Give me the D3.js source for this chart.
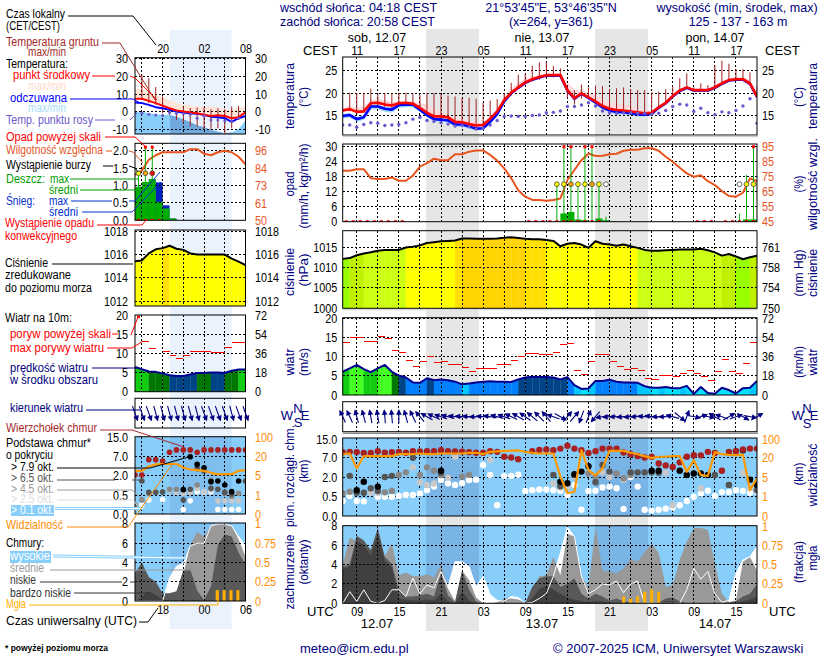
<!DOCTYPE html>
<html>
<head>
<meta charset="utf-8">
<script src="https://cdn.jsdelivr.net/npm/d3@7"></script>
<style>
  body { margin: 0; background: #fff; }
  text { font-family: "Liberation Sans", Arial, sans-serif; font-size: 12.5px; }
</style>
</head>
<body>
<div id="chart"></div>
<script>
// ---------- main forecast, hourly, t = hours after 12.07 07 UTC ----------
const tempMain = [16.2,16.5,15.9,16,17.8,17.9,17.5,17.3,17.8,17.9,
  17.7,16.8,15.7,14.9,14.9,14.7,13.7,13.6,13.2,12.9,
  13,14.4,16,18.5,20.1,21.3,22.4,23.1,23.6,24,
  24,24,20.7,18.9,20,19.1,18.2,17.2,16.6,16.3,
  16.2,16,15.8,15.6,15.7,16.9,17.9,19.4,20.6,21.3,
  20.7,20.7,20.7,21.3,22.2,22.9,23.1,23.1,22.2,19.3];
const tempMaxMain = [17,17.2,16.8,17,18.5,18.7,18.5,18,18.3,18.3,
  18.2,17.8,17.6,16.6,15.9,15.4,14.5,14.3,14,13.6,
  13.5,14.9,16.5,19.3,21,22.3,23.2,23.8,24,24.3,
  24.3,24.3,22.5,20.8,20.8,20,19.6,18.5,17.9,17.7,
  17.6,17.2,16.5,16.2,16.2,17.3,18.4,19.9,21,21.5,
  21,21,21,21.9,22.8,23.3,23.6,23.6,22.9,20.3];
const tempMinMain = [15.9,16.2,15.6,15.7,17.5,17.6,17.2,17,17.5,17.6,
  17.4,16.5,15.4,14.6,14.6,14.4,13.4,13.3,12.9,12.6,
  12.7,14.1,15.7,18.2,19.8,21,22.1,22.8,23.3,23.7,
  23.7,23.7,20.4,18.6,19.7,18.8,17.9,16.9,16.3,16,
  15.9,15.7,15.5,15.3,15.4,16.6,17.6,19.1,20.3,21,
  20.4,20.4,20.4,21,21.9,22.6,22.8,22.8,21.9,19];
const apparentMain = [15,15.2,14.3,14.7,17.1,17.1,16.6,16.4,17.4,17.5,
  17.5,16.4,15.2,14.3,14.2,14,13.1,13.1,12.7,12.2,
  12.3,13.7,15.4,18.2,20,21.2,22.3,23,23.5,23.9,
  23.9,23.9,20.6,18.8,19.9,19,18,16.9,16.2,15.9,
  15.8,15.6,15.4,15.3,15.5,16.8,17.8,19.3,20.5,21.2,
  20.6,20.6,20.6,21.2,22.1,22.8,23,23,22.1,19.2];
const apparentMaxMain = [15.5,15.7,14.8,15.2,17.6,17.6,17.1,16.9,17.8,17.9,
  17.9,16.8,15.6,14.7,14.5,14.3,13.4,13.4,13,12.6,
  12.6,14,15.7,18.4,20.1,21.3,22.4,23.1,23.6,24,
  24,24,20.7,18.9,20,19.1,18.2,17.2,16.5,16.2,
  16.1,15.9,15.7,15.6,15.7,16.9,17.9,19.4,20.6,21.3,
  20.7,20.7,20.7,21.3,22.2,22.9,23.1,23.1,22.2,19.3];
const apparentMinMain = [14.4,14.6,13.7,14.1,16.4,16.4,15.9,15.7,16.8,16.9,
  16.9,15.8,14.7,13.8,13.7,13.5,12.6,12.6,12.2,11.8,
  11.9,13.3,15,17.8,19.7,20.9,22,22.7,23.2,23.6,
  23.6,23.6,20.3,18.5,19.6,18.6,17.6,16.5,15.8,15.4,
  15.3,15.1,14.9,14.9,15.1,16.5,17.5,19,20.2,20.9,
  20.3,20.3,20.3,20.9,21.8,22.5,22.7,22.7,21.8,18.9];
const groundMaxMain = [16.5,20.1,20.1,20.1,21,20,20.1,20,20.1,20.1,
  20,19.6,20,20,19.7,19.5,19.3,18.9,19,18.8,
  17.9,18.4,18.7,20,22.3,24.1,24.4,26.1,26.8,27,
  26,25.5,21.5,20.7,21.9,21.3,21.7,21.6,20.9,21.1,
  21.3,20.9,20.7,20.7,20.2,20.4,20.9,21.5,23.3,24.4,
  21.3,22.2,21.8,26.2,27.2,26.5,25.3,25.3,24.6,21.5];
const groundMinMain = [16,16,15.6,15.8,17,17.3,17,16.8,17.2,17.5,
  17.3,16.3,15,14.5,14.2,14,13.3,13,12.8,12.5,
  12.6,13.8,15.5,17.8,19.5,21,22,22.6,23,23.5,
  23.5,23.5,19,17.5,18.8,18.7,17.8,16.9,16.3,16,
  15.9,15.7,15.5,15,15.4,16.5,17.5,19,20.2,21,
  20.3,20.3,20.4,21,21.9,22.6,22.8,22.8,21.8,19];
const dewMain = [13,13,12.5,13.1,13.5,13.4,12.9,13,13.1,13.5,
  14.3,14.7,14,13.8,13.5,13.2,12.8,12.9,12.6,12.1,
  12.3,13,14,14.9,15,14.9,14.9,15.1,15.2,15.7,
  15.8,16.1,17.1,17.1,17.4,17.9,17.2,16.1,15.7,15.6,
  15.7,15.7,15.6,15.6,15.4,15.6,16.2,17.1,17.6,17.4,
  16,16.7,15.7,15.3,15.9,15.7,16.2,17.2,18.8,13.4];
const humidityMain = [79,79,80,80,74,73.5,73.5,74.5,72.3,72.3,
  75.7,81.7,84,87,86,86,90,90,91.7,92.5,
  92.5,89.5,85.7,80.5,74,66,61.7,59.5,59.5,59,
  59.5,60.5,72.8,79.5,86,90.5,88.8,89,90,90.3,
  92.3,93,93,94,94,92.3,88.3,85,81,77.2,
  75,76,72,69.4,65.4,62.1,61.7,64.3,73.9,72];
const pressureMain = [1012.1,1012.3,1013,1013.4,1013.7,1014.1,1014.3,1014.3,1014.3,1014.9,
  1015.1,1015.4,1016,1016.2,1016.4,1016.5,1016.6,1017.1,1017.1,1017,
  1017,1017,1017.1,1017.3,1017.4,1017.2,1017,1016.9,1016.9,1016.7,
  1016.5,1015.2,1015.8,1016,1015.6,1014.8,1016.4,1015.8,1015.6,1015.3,
  1015.6,1015.2,1014.8,1014.3,1014.1,1014.1,1014.2,1014.3,1014.4,1014.4,
  1014.4,1014.6,1014.2,1013.7,1012.9,1013.3,1012.7,1012,1012.5,1012.9];
const windMain = [6.1,7,7.9,6.8,6,7,7.9,6.1,5.1,4.6,
  3.3,3.2,4.4,3.9,4.1,3.9,3.5,2.8,3,3.3,
  3.5,3.6,3.5,3.5,3.4,4.1,4.6,4.8,4.7,4.7,
  4.6,4.1,4.7,2.6,1.6,1.7,3.7,3.7,4,3.5,
  3.3,3.3,3.2,2.3,1.9,1.9,2.1,1.8,1.8,2.4,
  0.3,2.1,0.5,0.3,1.9,1.3,0.4,1.8,1.9,3.7];
// gust per hour interval, t .. t+1
const gustMain = [13.9,15.1,15.1,14,14,15.3,14.9,11.7,11.2,9.1,
  7.5,8.9,10,8.5,8.7,7.9,7.9,7.3,6.2,7,
  7,7,7.9,8.1,9.1,10.2,11,11,10.7,10.7,
  11.2,13.2,13.6,6.5,5.4,8.7,10.7,10.7,8.9,7.5,
  6.7,7,6.5,4.4,4.1,5.2,5.2,4.8,5.7,6.4,
  5.7,4.9,3.7,6.1,9.4,6.1,5.7,8.4,13.9];
const windDirMain = [335,335,345,345,350,350,355,355,0,345,
  335,320,300,295,290,285,280,275,275,270,
  275,280,285,290,295,300,305,310,315,320,
  290,120,40,40,200,20,220,260,265,270,
  265,265,270,275,280,270,270,285,130,20,
  100,70,100,300,290,60,70,120,100,60];
// [t, mm/h]
const rainAvgMain = [[31,3.3],[32,3.9],[33,0.9],[34,0.6],[36,1.3],[37,0.6],[38,0.2],[57,0.9],[58,0.9]];
const rainMaxMain = [[30.5,15],[31.5,34],[32.5,34],[33.5,15],[34.5,34],[35.5,34],[36.5,15],[37.5,2],[56.5,3.3],[57.5,18.7],[58.5,34]];
// [t, level] 0 weak .. 3 strong
const stormMain = [[30.5,1],[31.5,1],[32.5,2],[33.5,1],[34.5,1],[35.5,2],[36.5,1],[37.5,0],[56.5,0],[57.5,1],[58.5,1]];
const convectiveMain = [0.5,1.5,2.5,3.5,4.5,5.5,6.5,7.5,8.5,26.5,27.5,28.5,29.5,30.5,31.5,32.5,33.5,34.5,35.5,36.5,50.5,51.5,52.5,54.5,55.5,56.5,57.5,58.5];
const cloudTopMain = [9.3,9.5,9.4,9,9,9.8,9.1,9.4,9.5,9.1,
  9.8,9.7,9.8,9.8,10.2,9.8,9.7,9.6,9.4,9.1,
  9.1,9.8,9.5,7.4,7.1,6.6,null,9.8,10.3,10.5,
  10.2,10.9,12.1,10.9,10.2,9,9.8,10.9,10.9,10.9,
  9.2,8.5,7.7,7.1,7.4,5.5,5,4.6,5.8,7.4,
  8.1,8,9.5,9,3.6,9.5,9.8,10.5,10.9,10.9];
const visibilityMain = [35,38,11.7,27,27,27,27,27,35,35,
  35,38,35,35,38,38,38,38,41,41,
  35,45,47,49,50,51,45,41,38,38,
  38,5.3,1.7,2,52,10.4,6.3,11.7,49,49,
  49,41,35,27,19.7,24,24,27,27,9,
  18,6.6,5.8,44,35,32,31,32,2.4,4.7];
// cloud base [t, km] per cover class
const baseOver79Main = [[2,1],[3,1.64],[5,1.27],[14,3.6],[31,1.64],[32,1.52],[33,2.7],[34,3.4],[35,4.8],[44,3.6],[45,3.6],[48,3.6],[49,2.5],[50,2.9],[51,2.9],[52,2.5],[57,10.2],[58,1.8],[59,1.4]];
const baseOver65Main = [[1,2.3],[2,0.8],[3,0.8],[4,1.14],[5,0.93],[6,2],[7,2.3],[10,7],[14,3.1],[30,2.5],[31,1.3],[33,2.5],[36,1.6],[37,5.1],[38,3.4],[41,3.2],[42,3.2],[43,3.2],[44,3.2],[45,3.1],[53,2.5],[55,1.4],[56,9.9],[59,1]];
const baseOver45Main = [[0,0.75],[1,0.88],[6,0.83],[7,0.93],[8,2.5],[9,3.2],[11,2.5],[12,4.5],[13,3.6],[14,2.5],[17,2.1],[18,2.6],[35,2.9],[36,2],[39,2.9],[40,1.9],[41,2.5],[55,1.4]];
const baseOver25Main = [[4,0.8],[5,0.8],[10,4.5],[11,1.6],[12,1.4],[13,1.5],[15,1.95],[16,7.4],[21,6.4],[30,1.5],[31,1.2],[32,1.2],[33,2.1],[37,3.2],[38,2],[40,1.8],[46,3.1],[47,0.28],[51,1.14],[57,3.1],[58,1.14]];
const baseOver01Main = [[0,0.39],[1,0.55],[2,0.39],[3,0.38],[5,0.5],[6,0.5],[7,0.5],[8,0.55],[9,0.63],[10,0.63],[11,0.75],[12,1],[13,1.27],[14,1.77],[15,1.52],[16,1.39],[17,1.52],[18,1.77],[19,1.8],[20,5.1],[21,2.5],[22,0.28],[23,2.3],[24,2.3],[25,2.6],[26,0.93],[27,1],[28,1.05],[29,1.05],
  [30,1],[31,0.95],[32,0.63],[33,1.39],[34,0.16],[35,0.93],[36,0.95],[37,1.2],[38,1.27],[39,1.14],[40,0.18],[41,2],[42,1.27],[43,0.16],[44,0.14],[45,0.16],[46,0.19],[47,0.22],[48,0.28],[49,0.39],[50,0.5],[51,0.75],[52,0.95],[53,0.55],[54,0.85],[55,0.85],[56,1],[57,0.93],[58,0.8],[59,0.88]];
const coverHighMain = [0,1.2,0.2,1.4,0.2,0,0.3,1.4,1.4,0.7,
  2.6,1,1.9,1.6,3.3,1.7,4.3,4.3,3.8,1.7,
  2.8,0.9,0.3,0.2,0.7,0.6,0,0.1,0.5,1,
  2.8,5.2,7.9,6.9,2.8,1,1.4,2,1.9,2.3,
  1.1,2,2.3,0,0,0,0,0,0,1.4,
  3.6,2.5,3.3,1,0.1,0.3,3.1,4.5,4.8,5.9];
const coverMidMain = [4,6.8,6.4,5.9,5.6,7.5,4.9,6.2,2.9,3.2,
  2.8,2.8,3,2.7,4,1.5,0.2,3.4,2.4,0.6,
  0,0,0.1,0.5,0.5,0.4,0.1,1,2.8,2.9,
  4.8,2.9,7.2,6.9,2.8,1.7,7.9,3.4,3.3,3.1,
  3.6,4.6,4.3,5.3,6.2,5.2,1.7,1.9,4.5,6.4,
  7.8,7.8,7.6,4.1,1,0.1,0.3,4.3,4.8,3.4];
const coverLowMain = [3.8,4,7,6.5,5.5,7.8,4.8,4.1,1.4,0.7,
  0.7,0.8,1,0.7,3.1,0.8,0.1,3.4,1.4,0.2,
  0,0,0,0,0,0,0,1.7,2.6,2.8,
  2.8,1.7,2,2.6,1,0.5,1,0.7,0.3,0.5,
  0.2,0.1,0,0,0,0.1,0.5,0.6,0.2,0,
  0,0,0,0,0,0.1,0.2,0.7,1,2];
const coverVeryLowMain = [3.5,3.8,6.5,6,5,7.2,4.4,3.7,0.5,0.4,
  0.3,0.3,0.4,0.3,1,0.2,0,1.2,0.3,0,
  0,0,0,0,0,0,0,0.5,1.5,1.8,
  1.4,1,0.6,0.4,0.2,0.1,0.2,0.2,0,0,
  0,0,0,0,0,0,0.2,0.2,0,0,
  0,0,0,0,0,0,0,0.2,0.4,0.7];
const fogMain = [[40,0.09],[41,0.06],[42,0.09],[43,0.15],[44,0.18],[45,0.15]];

// ---------- left, area forecast, i = hours after 14 UTC ----------
const tempLeft = [7.3,7.3,6.1,4.8,3.4,1.9,0.6,0,-0.6,-1,-1.9,-2.5,-2.1,-2.5,-3.8,-3.2,-0.4];
const tempMaxLeft = [13,12.8,11,9.5,8,6.5,5,4,3.5,3,2.5,3,2.5,1.5,1,2,3];
const tempMinLeft = [7,7,5.8,4.5,3,1.5,0.3,-0.4,-1,-1.4,-2.3,-2.9,-2.7,-2.9,-4.2,-3.6,-2.2];
const apparentLeft = [5.2,4.8,3.8,2.5,1.9,1,0,-0.6,-1,-1.3,-1.9,-2.9,-3.3,-3.8,-5.9,-3.8,-2.5];
const apparentMaxLeft = [0,0,-1,-1.5,-2,-2,-3,-4.5,-6,-8,-9,-10.5,-11.5,-12.5,-12,-10,-5];
const apparentMinLeft = [-15,-15,-15,-15,-15,-15,-15,-15,-15,-15,-15,-15,-15,-15,-15,-15,-15];
const groundMaxLeft = [null,21,19,14,8.7,2,1,2.5,2,2.3,2.5,1.3,1.9,1.3,2.9,3.3,null];
const groundMinLeft = [null,6.7,4.8,3.8,-1,-2,-4.8,-6.7,-8.6,-8.6,-10,-10.4,-9.5,-12.5,-9.5,-4.8,null];
const dewLeft = [-1,-1,-1.5,-2,-2.3,-0.6,-1,-1.3,-1.5,-3.8,-2.5,-4.8,-4.8,-5.3,-5.7,-3.8,null];
const humidityLeft = [80,83,90,93,95,95,95,95,97,97,94,93,95,96,95,92,87];
const rainAvgLeft = [0.96,1.1,1.18,0.53,0.34,0.05];
const snowAvgLeft = [0,0,0,0.56,0.09,0];
const rainMaxLeft = [[0.5,1.35],[1.5,3],[2.5,3]];
const stormLeft = [[0.5,1],[1.5,2],[2.5,3]];
const convectiveLeft = [0.5,1.5,2.5,3.5];
const pressureLeft = [1015.43,1015.5,1016.1,1016.45,1016.55,1016.75,1016.5,1016.4,1016.1,1016,1016,1016,1016,1016,1015.65,1015.4,1015.1];
const windLeft = [6.5,5.9,5.3,5.2,4.8,4.3,4.1,4.1,4.5,4.9,4.9,5,5,4.9,5.5,5.8,5.8];
const windBandLeft = [6,6,5.5,5.5,5.5,4.5,4.5,4.5,4.5,5.5,5.5,4.5,4.5,5.5,5.5,6];
const gustLeft = [25,13.2,11.4,null,10.5,9.4,8.6,9.4,10.5,10.6,10.6,10.4,10.4,11.5,12.8,12.8];
const windDirLeft = [160,160,160,165,165,165,165,165,165,165,160,160,160,160,165,160,160];
const cloudTopLeft = [2,2,6.2,6.2,5.8,8.8,9.76,9.76,9.76,8.8,9.76,9.76,9.76,9.76,9.76,9.76,9.76];
const visibilityLeft = [8.4,8.4,12,13.7,14,14,14,11.1,9.5,9,8.4,6.8,5.5,5.7,5.7,8.4,9];
const baseOver79Left = [[7,0.9],[8,7],[9,4.9],[10,4],[11,1.5],[12,1.55],[13,1.25],[14,0.75],[15,1.55]];
const baseOver65Left = [[1,1.55],[2,0.7],[3,0.7],[4,0.72],[7,0.37],[8,0.93],[9,3.75],[10,3.1],[11,1],[12,0.93],[13,0.7],[14,0.58],[16,1.55]];
const baseOver45Left = [[0,0.24],[1,0.37],[2,0.63],[3,0.7],[5,0.93],[6,0.93],[9,1.25],[11,1.6],[13,0.63],[14,0.47],[15,0.63]];
const baseOver25Left = [[0,0.24],[5,0.85],[6,0.7],[7,0.63],[8,0.7],[9,1],[10,0.75],[11,0.88],[12,0.35],[13,0.35],[14,0.35],[15,0.35]];
const baseOver01Left = [[1,0.24],[2,0.37],[4,0.38],[7,0.12],[8,0.35],[9,0.75],[10,0.7],[11,0.75],[12,0.12],[13,0.12],[14,0.12],[15,0.12]];
const coverHighLeft = [0,0,0,0,0,2.4,3.6,3.9,5.7,6,6,7.8,8,8,7.8,6.7,5.7];
const coverMidLeft = [2.6,3,2,1.6,0.6,0.6,0.9,2.8,5.8,7.2,6.7,7.8,8,8,7.8,6.4,4.6];
const coverLowLeft = [2.9,4,2.5,2,0.8,0.8,1,3.2,3.3,1.1,0.1,1.5,5.8,6.9,6.7,5,3.8];
const coverVeryLowLeft = [0,0.4,1,0.6,0.1,0,0,0,0,0,0,0,0,0,0,0,0];
const fogLeft = [[11.9,0.14],[12.9,0.14],[13.9,0.14],[14.9,0.14]];

// ---------- tick labels ----------
const timeTicksMain = [2,8,14,20,26,32,38,44,50,56];
const utcLabels = ["09","15","21","03","09","15","21","03","09","15"];
const cestLabels = ["11","17","23","05","11","17","23","05","11","17"];
const timeTicksLeft = [4,10,16];

const width = 820, height = 660;
const svg = d3.select("#chart").append("svg").attr("width", width).attr("height", height);

const xMain = d3.scaleLinear().domain([0, 59]).range([342.7, 757]);
const xLeft = d3.scaleLinear().domain([0, 16]).range([135, 245.5]);

const navy = "#000080", orange = "#ff8c00", humid = "#e8541e", brown = "#a52a2a";
const skyBlue = "#87cefa";
const dotColors = ["#fff", "#c8c8c8", "#888", "#555", "#000"];
const coverColors = {high: "#fff", mid: "#999", low: "#595959", veryLow: "#404040"};
const stormColors = ["#fff", "#ffff00", "#ffa500", "#ff0000"];

const pressureColor = d3.scaleThreshold()
  .domain([1012.4, 1013.3, 1014.6, 1016.63, 1017])
  .range(["#99ff00", "#bff000", "#ccff11", "#ffff00", "#ffe000", "#ffd400"]);
const windColor = d3.scaleThreshold()
  .domain([2, 3, 4.1, 5, 5.8, 6.8])
  .range(["#00e0ff", "#00c8ff", "#0080ff", "#004488", "#007700", "#11cc11", "#44ff22"]);

// page level night bands
svg.append("rect").attr("x", 426).attr("y", 29).attr("width", 53).attr("height", 602).attr("fill", "#e6e6e6");
svg.append("rect").attr("x", 595).attr("y", 29).attr("width", 53).attr("height", 602).attr("fill", "#e6e6e6");
svg.append("rect").attr("x", 170).attr("y", 30).attr("width", 61.7).attr("height", 599).attr("fill", "#eaf2fd");

let clipId = 0;

// digits are narrower in the reference than in the installed font
function tickWidth(str) {
  return str.replace(/[.\-]/g, "").length * 6 + (str.match(/\./g) || []).length * 3 + (str.match(/-/g) || []).length * 3.5;
}

function styleTicks(g, color) {
  g.select(".domain").remove();
  g.selectAll("text").attr("fill", color).style("font-size", "12.5px")
    .attr("textLength", function() { return tickWidth(this.textContent); })
    .attr("lengthAdjust", "spacingAndGlyphs");
}

// one box: background, shaded bands, layers for fills / grid / lines, axes
function addPanel(cfg) {
  const rangeY = cfg.y.range();
  const panel = {x: cfg.x, y: cfg.y, top: cfg.top || d3.min(rangeY), bottom: d3.max(rangeY), left: cfg.x.range()[0], right: cfg.x.range()[1]};
  const h = panel.bottom - panel.top;
  const id = "clip" + (clipId++);
  svg.append("clipPath").attr("id", id).append("rect")
    .attr("x", panel.left).attr("y", panel.top).attr("width", panel.right - panel.left).attr("height", h);

  const root = svg.append("g");
  const clipped = root.append("g").attr("clip-path", "url(#" + id + ")");
  clipped.append("rect").attr("x", panel.left).attr("y", panel.top)
    .attr("width", panel.right - panel.left).attr("height", h)
    .attr("fill", cfg.sky ? skyBlue : "#fff");
  cfg.bands.forEach(b => {
    clipped.append("rect").attr("x", b[0]).attr("y", panel.top).attr("width", b[1]).attr("height", h)
      .attr("fill", cfg.sky ? cfg.skyBand : cfg.band);
  });
  panel.fills = clipped.append("g");
  const grid = clipped.append("g").attr("stroke", "#000").attr("stroke-width", 1).attr("stroke-dasharray", "2,2").attr("shape-rendering", "crispEdges");
  panel.lines = clipped.append("g");

  cfg.timeGrid.forEach(t => {
    grid.append("line").attr("x1", cfg.x(t)).attr("x2", cfg.x(t)).attr("y1", panel.top).attr("y2", panel.bottom);
  });
  (cfg.hGrid || []).forEach(v => {
    grid.append("line").attr("x1", panel.left).attr("x2", panel.right).attr("y1", cfg.y(v)).attr("y2", cfg.y(v));
  });

  root.append("rect").attr("x", panel.left).attr("y", panel.top)
    .attr("width", panel.right - panel.left).attr("height", h)
    .attr("fill", "none").attr("stroke", "#000");

  if (cfg.shadow) {
    root.append("line").attr("x1", panel.left).attr("x2", panel.right + 1)
      .attr("y1", panel.bottom + 1.5).attr("y2", panel.bottom + 1.5)
      .attr("stroke", cfg.shadow).attr("stroke-width", 1.5);
  }

  if (cfg.leftTicks) {
    addAxis(d3.axisLeft(cfg.y), cfg.leftTicks, cfg.leftLabels, panel.left, cfg.leftPad, "#000");
  }
  if (cfg.rightTicks) {
    addAxis(d3.axisRight(cfg.rightScale || cfg.y), cfg.rightTicks, cfg.rightLabels, panel.right, cfg.rightPad, cfg.rightColor || "#000");
  }
  return panel;
}

function addAxis(axis, ticks, labels, x, pad, color) {
  axis.tickValues(ticks).tickSize(0).tickPadding(pad)
    .tickFormat((d, i) => labels ? labels[i] : d);
  const g = svg.append("g").attr("transform", "translate(" + x + ",0)").call(axis);
  styleTicks(g, color);
}

function addArea(panel, values, low, fill, clip) {
  const area = d3.area().defined(d => d != null)
    .x((d, i) => panel.x(i))
    .y1(d => panel.y(d))
    .y0((d, i) => panel.y(low ? low[i] : panel.y.domain()[0]));
  const path = panel.fills.append("path").attr("d", area(values)).attr("fill", fill);
  if (clip) path.attr("clip-path", "url(#" + clip + ")");
}

function addLine(panel, values, color, w, yScale) {
  const y = yScale || panel.y;
  const line = d3.line().defined(d => d != null).x((d, i) => panel.x(i)).y(d => y(d));
  panel.lines.append("path").attr("d", line(values)).attr("fill", "none")
    .attr("stroke", color).attr("stroke-width", w).attr("stroke-linejoin", "round");
}

// coloured columns below a line, one colour per hour interval
function addColouredArea(panel, values, colorOf) {
  d3.range(values.length - 1).forEach(i => {
    const area = d3.area().x(d => panel.x(d[0])).y0(panel.bottom).y1(d => panel.y(d[1]));
    const c = colorOf(i);
    panel.fills.append("path").attr("d", area([[i, values[i]], [i + 1, values[i + 1]]]))
      .attr("fill", c).attr("stroke", c).attr("stroke-width", 0.3);
  });
}

function addGround(panel, maxes, mins) {
  maxes.forEach((d, i) => {
    if (d == null) return;
    panel.lines.append("line").attr("x1", panel.x(i)).attr("x2", panel.x(i))
      .attr("y1", panel.y(d)).attr("y2", panel.y(mins[i]))
      .attr("stroke", "#a02020").attr("stroke-width", 1);
  });
}

function addDots(panel, values, color, r) {
  values.forEach((d, i) => {
    if (d == null) return;
    panel.lines.append("circle").attr("cx", panel.x(i)).attr("cy", panel.y(d)).attr("r", r).attr("fill", color);
  });
}

function addBars(panel, pairs, color) {
  pairs.forEach(d => {
    panel.fills.append("rect").attr("x", panel.x(d[0])).attr("width", panel.x(d[0] + 1) - panel.x(d[0]))
      .attr("y", panel.y(d[1])).attr("height", panel.bottom - panel.y(d[1])).attr("fill", color);
  });
}

function addRainMarks(panel, rainMax, storms, convective, stormValue, overValue) {
  rainMax.forEach(d => {
    panel.lines.append("line").attr("x1", panel.x(d[0])).attr("x2", panel.x(d[0]))
      .attr("y1", panel.bottom).attr("y2", panel.y(Math.min(d[1], overValue)))
      .attr("stroke", "#00b000").attr("stroke-width", 1);
    if (d[1] >= overValue) {
      panel.lines.append("rect").attr("x", panel.x(d[0]) - 1.5).attr("y", panel.y(overValue) - 1.5)
        .attr("width", 3).attr("height", 3).attr("fill", "#f00");
    }
  });
  storms.forEach(d => {
    panel.lines.append("circle").attr("cx", panel.x(d[0])).attr("cy", panel.y(stormValue)).attr("r", 2.4)
      .attr("fill", stormColors[d[1]]).attr("stroke", "#444").attr("stroke-width", 0.8);
  });
  convective.forEach(t => {
    panel.lines.append("rect").attr("x", panel.x(t) - 1.5).attr("y", panel.bottom - 1.5)
      .attr("width", 3).attr("height", 2).attr("fill", "#f00");
  });
}

function addGusts(panel, gusts) {
  gusts.forEach((d, i) => {
    if (d == null) return;
    panel.lines.append("line").attr("x1", panel.x(i)).attr("x2", panel.x(i + 1))
      .attr("y1", panel.y(d)).attr("y2", panel.y(d)).attr("stroke", "#f00").attr("stroke-width", 1)
      .attr("shape-rendering", "crispEdges");
  });
}

function addArrows(panel, dirs, len) {
  const mid = (panel.top + panel.bottom) / 2;
  dirs.forEach((d, i) => {
    const g = svg.append("g").attr("transform", "translate(" + panel.x(i) + "," + mid + ") rotate(" + d + ")");
    g.append("line").attr("y1", len / 2).attr("y2", -len / 2).attr("stroke", navy).attr("stroke-width", 1.1);
    g.append("path").attr("d", "M0," + (-len / 2 - 1) + "L2.8,-" + (len / 2 - 4.5) + "L-2.8,-" + (len / 2 - 4.5) + "Z").attr("fill", navy);
  });
}

function addCloudDots(panel, groups, tops, r) {
  groups.forEach((g, k) => {
    g.forEach(d => {
      panel.lines.append("circle").attr("cx", panel.x(d[0])).attr("cy", panel.y(d[1])).attr("r", r).attr("fill", dotColors[k]);
    });
  });
  addDots(panel, tops, "#a82020", r);
}

function addCover(panel, high, mid, low, veryLow, fog, fogScale) {
  addArea(panel, high, null, coverColors.high);
  addArea(panel, mid, null, coverColors.mid);
  addArea(panel, low, null, coverColors.low);
  addArea(panel, veryLow, null, coverColors.veryLow);
  addLine(panel, high, "#fff", 1);
  fog.forEach(d => {
    panel.lines.append("rect").attr("x", panel.x(d[0]) - 1.5).attr("width", 3)
      .attr("y", fogScale(d[1])).attr("height", panel.bottom - fogScale(d[1])).attr("fill", "#ffb000");
  });
}

// ---------- main column ----------
const gridMain = d3.range(2, 60, 3);
const mainOpts = {x: xMain, timeGrid: gridMain, bands: [[426, 53], [595, 53]], band: "#e6e6e6", skyBand: "#78b4e6", leftPad: 5.5, rightPad: 5};

const mTemp = addPanel(Object.assign({}, mainOpts, {y: d3.scaleLinear().domain([10.8, 28]).range([135, 57]),
  hGrid: [15, 20, 25], leftTicks: [15, 20, 25], rightTicks: [15, 20, 25], shadow: "#ccc"}));
addArea(mTemp, apparentMaxMain, apparentMinMain, "#a4dcfa");
addArea(mTemp, tempMaxMain, tempMinMain, "#ffd9dc");
addGround(mTemp, groundMaxMain, groundMinMain);
addLine(mTemp, apparentMain, "#0000ff", 2.6);
addLine(mTemp, tempMain, "#f00", 2.6);
addDots(mTemp, dewMain, "#6a5acd", 1.7);

const humidityMainY = d3.scaleLinear().domain([45, 95]).range([221.7, 146.7]);
const mRain = addPanel(Object.assign({}, mainOpts, {y: d3.scaleLinear().domain([0, 30]).range([221.7, 146.7]), top: 144,
  hGrid: [6, 12, 18, 24, 30], leftTicks: [0, 6, 12, 18, 24, 30],
  rightScale: humidityMainY, rightTicks: [45, 55, 65, 75, 85, 95], rightColor: humid}));
addBars(mRain, rainAvgMain, "#00b000");
addLine(mRain, humidityMain, humid, 2, humidityMainY);
addRainMarks(mRain, rainMaxMain, stormMain, convectiveMain, 15, 30);

const mPress = addPanel(Object.assign({}, mainOpts, {y: d3.scaleLinear().domain([1000, 1019]).range([308.3, 230.7]),
  hGrid: [1005, 1010, 1015], leftTicks: [1000, 1005, 1010, 1015], rightTicks: [1000, 1005, 1010, 1015],
  rightLabels: ["750", "754", "758", "761"], shadow: "#ddd"}));
addColouredArea(mPress, pressureMain, i => pressureColor((pressureMain[i] + pressureMain[i + 1]) / 2));
addLine(mPress, pressureMain, "#000", 2);

const mWind = addPanel(Object.assign({}, mainOpts, {y: d3.scaleLinear().domain([0, 20.3]).range([395, 317.7]),
  hGrid: [5, 10, 15, 20], leftTicks: [0, 5, 10, 15, 20], rightTicks: [0, 5, 10, 15, 20],
  rightLabels: ["0", "18", "36", "54", "72"]}));
addColouredArea(mWind, windMain, i => windColor((windMain[i] + windMain[i + 1]) / 2));
addLine(mWind, windMain, "#000090", 2);
addGusts(mWind, gustMain);

const mDir = addPanel(Object.assign({}, mainOpts, {y: d3.scaleLinear().domain([0, 1]).range([431.7, 401.7]), shadow: "#888"}));
addArrows(mDir, windDirMain, 13);

const cloudYMain = d3.scaleLinear().domain([0, 0.5, 2, 7, 15, 16]).range([516, 496.7, 477, 457.7, 439, 438]);
const visYMain = d3.scaleLinear().domain([0, 1, 5, 20, 100]).range([516, 496.7, 477, 457.7, 439]);
const mCloud = addPanel(Object.assign({}, mainOpts, {y: cloudYMain, sky: true,
  hGrid: [0.5, 2, 7], leftTicks: [0, 0.5, 2, 7, 15], leftLabels: ["0.0", "0.5", "2.0", "7.0", "15.0"],
  rightScale: visYMain, rightTicks: [0, 1, 5, 20, 100], rightColor: orange}));
addCloudDots(mCloud, [baseOver01Main, baseOver25Main, baseOver45Main, baseOver65Main, baseOver79Main], cloudTopMain, 3.2);
addLine(mCloud, visibilityMain, "#ff9900", 2.2, visYMain);

const fogYMain = d3.scaleLinear().domain([0, 1]).range([603.3, 526]);
const mCover = addPanel(Object.assign({}, mainOpts, {y: d3.scaleLinear().domain([0, 8.03]).range([603.3, 525.7]), sky: true,
  hGrid: [2, 4, 6, 8], leftTicks: [0, 2, 4, 6, 8],
  rightScale: fogYMain, rightTicks: [0, 0.25, 0.5, 0.75, 1], rightLabels: ["0", "0.25", "0.5", "0.75", "1"], rightColor: orange}));
addCover(mCover, coverHighMain, coverMidMain, coverLowMain, coverVeryLowMain, fogMain, fogYMain);

// time labels of the main column
const cestAxis = svg.append("g").attr("transform", "translate(0,57)")
  .call(d3.axisTop(xMain).tickValues(timeTicksMain).tickSize(0).tickPadding(2).tickFormat((d, i) => cestLabels[i]));
styleTicks(cestAxis, "#000");
const utcAxis = svg.append("g").attr("transform", "translate(0,603.3)")
  .call(d3.axisBottom(xMain).tickValues(timeTicksMain).tickSize(0).tickPadding(3.5).tickFormat((d, i) => utcLabels[i]));
styleTicks(utcAxis, "#000");

// ---------- left column ----------
const gridLeft = [1, 4, 7, 10, 13];
const leftOpts = {x: xLeft, timeGrid: gridLeft, bands: [[170, 61.7]], band: "#eaf2fd", skyBand: "#7fbff0", leftPad: 7, rightPad: 9.5};

const lTemp = addPanel(Object.assign({}, leftOpts, {y: d3.scaleLinear().domain([-12.8, 30.7]).range([134, 57.7]),
  hGrid: [-10, 0, 10, 20, 30], leftTicks: [-10, 0, 10, 20, 30], rightTicks: [-10, 0, 10, 20, 30]}));
addArea(lTemp, tempMaxLeft, tempMinLeft, "#ffe4d8");
addArea(lTemp, apparentMaxLeft, apparentMinLeft, "#87cefa");
// the same band looks darker inside the shaded hours
svg.append("clipPath").attr("id", "leftNight").append("rect").attr("x", 170).attr("y", 57).attr("width", 61.7).attr("height", 78);
addArea(lTemp, apparentMaxLeft, apparentMinLeft, "#6fa8de", "leftNight");
addGround(lTemp, groundMaxLeft, groundMinLeft);
addLine(lTemp, apparentLeft, "#0000ff", 2);
addLine(lTemp, tempLeft, "#f00", 2);
addDots(lTemp, dewLeft, "#6a5acd", 1.5);

const humidityLeftY = d3.scaleLinear().domain([50, 96]).range([220.3, 150.7]);
const lRain = addPanel(Object.assign({}, leftOpts, {y: d3.scaleLinear().domain([0, 2.21]).range([220.3, 143.3]),
  hGrid: [0.5, 1, 1.5, 2], leftTicks: [0, 0.5, 1, 1.5, 2], leftLabels: ["0.0", "0.5", "1.0", "1.5", "2.0"],
  rightScale: humidityLeftY, rightTicks: [50, 61, 73, 84, 96], rightColor: humid}));
addBars(lRain, rainAvgLeft.map((d, i) => [i, d + snowAvgLeft[i]]), "#0020c0");
addBars(lRain, rainAvgLeft.map((d, i) => [i, d]), "#00b000");
addLine(lRain, humidityLeft, humid, 2, humidityLeftY);
addRainMarks(lRain, rainMaxLeft, stormLeft, convectiveLeft, 1.35, 2.1);

const lPress = addPanel(Object.assign({}, leftOpts, {y: d3.scaleLinear().domain([1011.6, 1018.1]).range([306, 230]),
  hGrid: [1012, 1014, 1016, 1018], leftTicks: [1012, 1014, 1016, 1018], rightTicks: [1012, 1014, 1016, 1018]}));
addColouredArea(lPress, pressureLeft, i => pressureColor((pressureLeft[i] + pressureLeft[i + 1]) / 2));
addLine(lPress, pressureLeft, "#000", 2);

const lWind = addPanel(Object.assign({}, leftOpts, {y: d3.scaleLinear().domain([0, 20.1]).range([391.7, 315]),
  hGrid: [5, 10, 15], leftTicks: [0, 5, 10, 15, 20], rightTicks: [0, 5, 10, 15, 20],
  rightLabels: ["0", "18", "36", "54", "72"]}));
addColouredArea(lWind, windLeft, i => windColor(windBandLeft[i]));
addLine(lWind, windLeft, "#000090", 2);
addGusts(lWind, gustLeft);
lWind.lines.append("rect").attr("x", 137).attr("y", 315.5).attr("width", 3).attr("height", 2.5).attr("fill", "#f00");

const lDir = addPanel(Object.assign({}, leftOpts, {y: d3.scaleLinear().domain([0, 1]).range([428, 398.3])}));
addArrows(lDir, windDirLeft, 15);

const cloudYLeft = d3.scaleLinear().domain([0, 0.5, 2, 7, 15, 16]).range([514, 495, 475, 456.7, 437, 436.7]);
const visYLeft = d3.scaleLinear().domain([0, 1, 5, 20, 100]).range([514, 495, 475, 456.7, 437]);
const lCloud = addPanel(Object.assign({}, leftOpts, {y: cloudYLeft, sky: true,
  hGrid: [0.5, 2, 7], leftTicks: [0, 0.5, 2, 7, 15], leftLabels: ["0.0", "0.5", "2.0", "7.0", "15.0"],
  rightScale: visYLeft, rightTicks: [0, 1, 5, 20, 100], rightColor: orange}));
addCloudDots(lCloud, [baseOver01Left, baseOver25Left, baseOver45Left, baseOver65Left, baseOver79Left], cloudTopLeft, 2.8);
addLine(lCloud, visibilityLeft, "#ff9900", 2.2, visYLeft);

const fogYLeft = d3.scaleLinear().domain([0, 1]).range([601, 523.7]);
const lCover = addPanel(Object.assign({}, leftOpts, {y: d3.scaleLinear().domain([0, 8.1]).range([601, 523]), sky: true,
  hGrid: [2, 4, 6], leftTicks: [0, 2, 4, 6, 8],
  rightScale: fogYLeft, rightTicks: [0, 0.25, 0.5, 0.75, 1], rightLabels: ["0", "0.25", "0.5", "0.75", "1"], rightColor: orange}));
addCover(lCover, coverHighLeft, coverMidLeft, coverLowLeft, coverVeryLowLeft, fogLeft, fogYLeft);

const cetAxis = svg.append("g").attr("transform", "translate(0,57.7)")
  .call(d3.axisTop(xLeft).tickValues(timeTicksLeft).tickSize(0).tickPadding(5).tickFormat((d, i) => ["20", "02", "08"][i]));
styleTicks(cetAxis, "#000");
const utcLeftAxis = svg.append("g").attr("transform", "translate(0,601)")
  .call(d3.axisBottom(xLeft).tickValues(timeTicksLeft).tickSize(0).tickPadding(4).tickFormat((d, i) => ["18", "00", "06"][i]));
styleTicks(utcLeftAxis, "#000");

// ---------- texts and leader lines ----------
function label(x, y, str, color, anchor, size) {
  return svg.append("text").attr("x", x).attr("y", y).text(str).attr("fill", color || "#000")
    .attr("text-anchor", anchor || "start").style("font-size", (size || 12.5) + "px");
}
// legend text squeezed to the width it has in the reference
function legend(x, y, str, w, color) {
  return label(x, y, str, color, "start", 12).attr("textLength", w).attr("lengthAdjust", "spacingAndGlyphs");
}
function vLabel(x, y, str, w) {
  svg.append("text").attr("transform", "translate(" + x + "," + y + ") rotate(-90)").text(str)
    .attr("fill", navy).attr("text-anchor", "middle").style("font-size", "12.5px")
    .attr("textLength", w).attr("lengthAdjust", "spacingAndGlyphs");
}
function leader(points, color, w) {
  svg.append("path").attr("d", d3.line()(points)).attr("fill", "none").attr("stroke", color).attr("stroke-width", w || 1);
}

// header
label(280, 12, "wschód słońca: 04:18 CEST", navy);
label(280, 26, "zachód słońca: 20:58 CEST", navy);
label(551, 12, "21°53'45\"E, 53°46'35\"N", navy, "middle");
label(551, 26, "(x=264,  y=361)", navy, "middle");
label(737, 12, "wysokość (min, środek, max)", navy, "middle");
label(738, 26, "125 - 137 - 163 m", navy, "middle");
label(377, 42, "sob, 12.07", "#000", "middle");
label(542, 42, "nie, 13.07", "#000", "middle");
label(715, 42, "pon, 14.07", "#000", "middle");
label(303, 55, "CEST", "#000", "start", 13);
label(765, 55, "CEST", "#000", "start", 13);
label(307, 616, "UTC", "#000", "start", 13);
label(769, 616, "UTC", "#000", "start", 13);
label(377, 628, "12.07", "#000", "middle", 13);
label(542, 628, "13.07", "#000", "middle", 13);
label(715, 628, "14.07", "#000", "middle", 13);
label(300, 653, "meteo@icm.edu.pl", navy, "start", 13);
label(553, 653, "© 2007-2025 ICM, Uniwersytet Warszawski", navy, "start", 13);

// vertical titles, main column
vLabel(294, 96, "temperatura", 66); vLabel(308, 97, "(°C)", 20);
vLabel(294, 184, "opad", 25); vLabel(308, 186, "(mm/h, kg/m²/h)", 85);
vLabel(294, 272, "ciśnienie", 48); vLabel(308, 270, "(hPa)", 33);
vLabel(294, 362, "wiatr", 27); vLabel(308, 362, "(m/s)", 28);
vLabel(294, 476, "pion. rozciągł. chm.", 102); vLabel(308, 471, "(km)", 23);
vLabel(294, 572, "zachmurzenie", 75); vLabel(308, 562, "(oktanty)", 45);
vLabel(803, 97, "(°C)", 20); vLabel(817, 96, "temperatura", 66);
vLabel(803, 184, "(%)", 17); vLabel(817, 184, "wilgotność wzgl.", 92);
vLabel(803, 273, "(mm Hg)", 47); vLabel(817, 273, "ciśnienie", 48);
vLabel(803, 362, "(km/h)", 32); vLabel(817, 362, "wiatr", 27);
vLabel(803, 474, "(km)", 23); vLabel(817, 475, "widzialność", 63);
vLabel(803, 562, "(frakcja)", 42); vLabel(817, 558, "mgła", 25);

// compass letters
[[287, 420, "W"], [298, 413, "N"], [298, 427, "S"], [305, 420, "E"], [798, 420, "W"], [807, 413, "N"], [807, 428, "S"], [814, 420, "E"]]
  .forEach(d => label(d[0], d[1], d[2], navy, "middle", 13));

// left legend
legend(6, 18, "Czas lokalny", 59);
legend(6, 30, "(CET/CEST)", 54);
legend(6, 46, "Temperatura gruntu", 93, brown);
legend(28, 56, "max/min", 38, brown);
legend(6, 68, "Temperatura:", 62);
legend(13, 79, "punkt środkowy", 77, "#f00");
legend(28, 90, "max/min", 38, "#ffd9cc");
legend(10, 102, "odczuwana", 57, "#0000ff");
legend(28, 112, "max/min", 38, "#a8dcf8");
legend(6, 124, "Temp. punktu rosy", 87, "#6a5acd");
legend(6, 141, "Opad powyżej skali", 95, "#f00");
legend(6, 154, "Wilgotność względna", 97, humid);
legend(6, 169, "Wystąpienie burzy", 85);
legend(6, 183, "Deszcz:", 39, "#00a000");
legend(50, 183, "max", 19, "#00a000");
legend(49, 194, "średni", 29, "#00a000");
legend(6, 205, "Śnieg:", 29, "#0030d0");
legend(49, 205, "max", 19, "#0030d0");
legend(49, 216, "średni", 29, "#0030d0");
legend(5, 227, "Wystąpienie opadu", 89, "#f00");
legend(5, 240, "konwekcyjnego", 72, "#f00");
legend(5, 267, "Ciśnienie", 43);
legend(5, 279, "zredukowane", 66);
legend(5, 292, "do poziomu morza", 87);
legend(5, 322, "Wiatr na 10m:", 67);
legend(10, 338, "poryw powyżej skali", 101, "#f00");
legend(10, 352, "max porywy wiatru", 94, "#f00");
legend(10, 372, "prędkość wiatru", 78, navy);
legend(10, 384, "w środku obszaru", 88, navy);
legend(10, 412, "kierunek wiatru", 73, navy);
legend(6, 432, "Wierzchołek chmur", 91, brown);
legend(6, 447, "Podstawa chmur*", 85);
legend(6, 459, "o pokryciu", 47);
legend(11, 471, "> 7.9 okt.", 43);
legend(11, 482, "> 6.5 okt.", 43, "#555");
legend(11, 493, "> 4.5 okt.", 43, "#999");
legend(11, 503, "> 2.5 okt.", 43, "#ddd");
svg.append("rect").attr("x", 11).attr("y", 505).attr("width", 43).attr("height", 11).attr("fill", skyBlue);
legend(11, 514, "> 0.1 okt.", 43, "#fff");
legend(6, 529, "Widzialność", 57, orange);
legend(6, 547, "Chmury:", 38);
svg.append("rect").attr("x", 10).attr("y", 551).attr("width", 41).attr("height", 12).attr("fill", skyBlue);
legend(10, 560, "wysokie", 40, "#fff");
legend(10, 572, "średnie", 34, "#999");
legend(10, 584, "niskie", 26, "#333");
legend(10, 597, "bardzo niskie", 61, "#333");
legend(6, 608, "Mgła", 20, "#ffb000");
legend(6, 625, "Czas uniwersalny (UTC)", 131);
label(5, 651, "* powyżej poziomu morza", "#000", "start", 9.5).style("font-weight", "bold").attr("textLength", 103).attr("lengthAdjust", "spacingAndGlyphs");

leader([[68, 16], [133, 16], [156, 45]], "#000");
leader([[102, 43], [120, 43], [155, 100]], brown);
leader([[92, 76], [115, 76]], "#f00");
leader([[130, 76], [135, 78], [157, 100]], "#f00");
leader([[70, 99], [133, 99], [140, 103]], "#0000ff");
leader([[95, 120], [115, 120]], "#6a5acd");
leader([[130, 120], [137, 113]], "#6a5acd");
leader([[105, 137], [135, 137], [146, 147]], "#f00");
leader([[106, 151], [112, 151]], humid);
leader([[129, 151], [133, 152], [143, 163]], humid);
leader([[103, 166], [113, 166]], "#000");
leader([[129, 166], [135, 168], [138, 172]], "#000");
leader([[70, 179], [139, 179]], "#00a000");
leader([[80, 190], [147, 190]], "#00a000");
leader([[71, 201], [112, 201]], "#0030d0");
leader([[129, 201], [135, 201], [160, 172]], "#0030d0");
leader([[82, 212], [132, 212], [161, 182]], "#0030d0");
leader([[97, 225], [142, 225], [147, 219]], "#f00");
leader([[52, 264], [133, 264]], "#000");
leader([[112, 334], [118, 334]], "#f00");
leader([[131, 335], [138, 317]], "#f00");
leader([[107, 348], [132, 348], [143, 341]], "#f00");
leader([[92, 368], [137, 368]], navy);
leader([[86, 410], [140, 410]], navy);
leader([[100, 430], [132, 430], [184, 447]], brown);
leader([[57, 468], [150, 468], [192, 456]], "#000");
leader([[57, 480], [115, 480]], "#555");
leader([[132, 480], [143, 480]], "#555");
leader([[57, 490], [132, 490], [143, 500]], "#999");
leader([[57, 500], [133, 500], [137, 505]], "#ddd");
leader([[55, 508.5], [143, 508.5]], skyBlue, 3);
leader([[55, 508.5], [143, 508.5]], "#fff");
leader([[67, 527], [128, 527], [173, 463]], orange);
leader([[53, 556], [186, 558]], skyBlue, 3);
leader([[53, 556], [186, 558]], "#fff");
leader([[50, 570], [192, 570]], "#999");
leader([[40, 582], [122, 582]], "#333");
leader([[130, 582], [137, 582]], "#333");
leader([[74, 593], [150, 593]], "#333");
leader([[29, 605], [218, 605], [218, 590]], "#ffb000");
leader([[139, 622], [148, 622], [158, 608]], "#000");
</script>
</body>
</html>
